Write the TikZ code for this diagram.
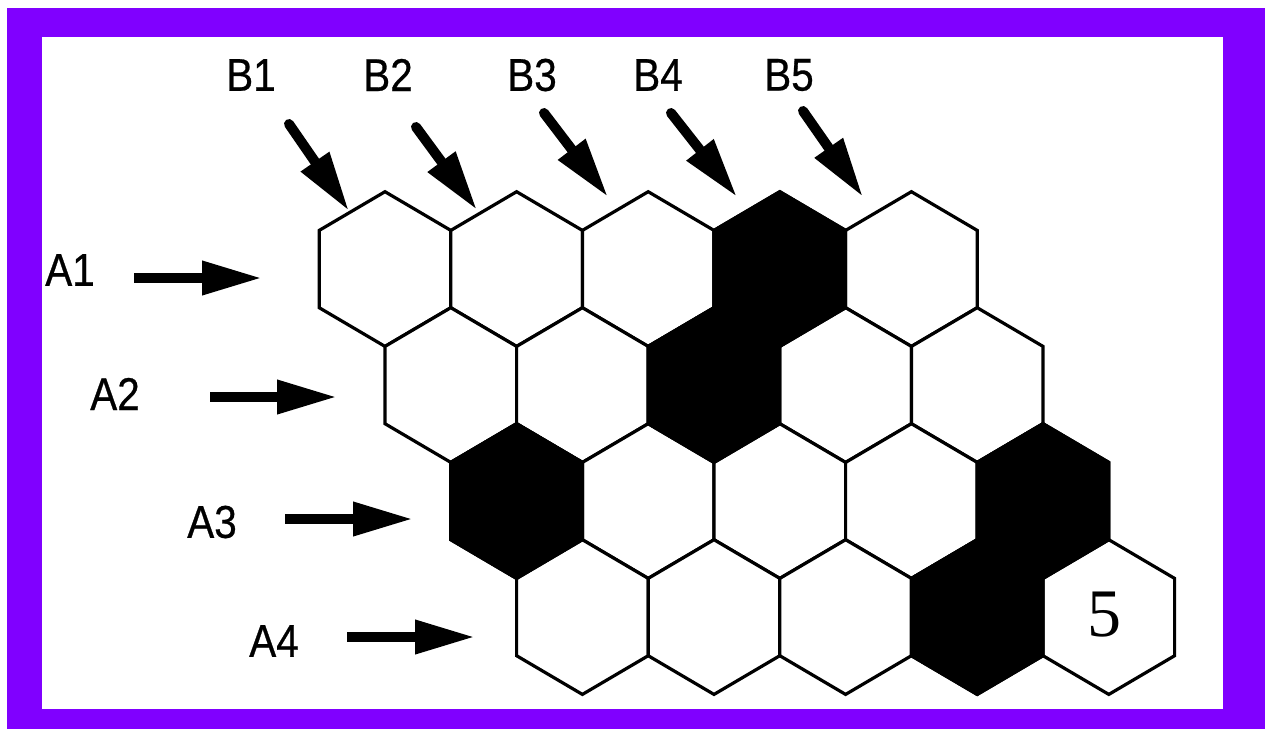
\documentclass[tikz,border=0pt]{standalone}
\usepackage{fontspec}
\setmainfont{Liberation Sans}
\newfontfamily\lblfont[FakeStretch=0.88,FakeBold=0.6]{Liberation Sans}
\newfontfamily\numfont{Liberation Serif}
\usetikzlibrary{arrows.meta}
\definecolor{framepurple}{RGB}{128,0,255}
\begin{document}
\begin{tikzpicture}[x=1pt,y=-1pt,
  hexcell/.style={draw=black,line width=3.2pt,line join=miter,fill=white},
  hexblack/.style={hexcell,fill=black},
  lbl/.style={font=\lblfont\fontsize{46}{52}\selectfont,inner sep=0pt,text=black},
  pointer/.style={line width=10pt,line cap=round,-{Triangle[length=60pt,width=32pt]}}
]
\useasboundingbox (0,0) rectangle (1271,729);
% frame
\fill[white] (0,0) rectangle (1271,729);
\fill[framepurple] (7,8) rectangle (1265,729);
\fill[white] (42,37) rectangle (1223,709);
% hex grid
\foreach \r in {0,1,2,3}{
  \foreach \c in {0,1,2,3,4}{
    \pgfmathsetmacro\cx{385+\r*65.8+\c*131.6}
    \pgfmathsetmacro\cy{269+\r*116}
    \coordinate (h\r\c) at (\cx,\cy);
    \draw[hexcell] (\cx,\cy-77.3) -- ++(65.8,38.7) -- ++(0,77.3) -- ++(-65.8,38.7)
      -- ++(-65.8,-38.7) -- ++(0,-77.3) -- cycle;
  }
}
\foreach \r/\c in {0/3,1/2,2/0,2/4,3/3}{
  \pgfmathsetmacro\cx{385+\r*65.8+\c*131.6}
  \pgfmathsetmacro\cy{269+\r*116}
  \draw[hexblack] (\cx,\cy-77.3) -- ++(65.8,38.7) -- ++(0,77.3) -- ++(-65.8,38.7)
    -- ++(-65.8,-38.7) -- ++(0,-77.3) -- cycle;
}
\node[inner sep=0pt,font=\numfont\fontsize{68}{74}\selectfont] (five) at ([xshift=-4pt,yshift=2pt]h34) {5};
% column labels and arrows
\node[lbl] (B1) at (251,75) {B1};
\node[lbl] (B2) at (388,75) {B2};
\node[lbl] (B3) at (532,75) {B3};
\node[lbl] (B4) at (658,75) {B4};
\node[lbl] (B5) at (789,75) {B5};
\coordinate (b1s) at (289,124); \coordinate (b1e) at (349,211);
\coordinate (b2s) at (416,127); \coordinate (b2e) at (477,210);
\coordinate (b3s) at (544,113); \coordinate (b3e) at (608,197);
\coordinate (b4s) at (671,113); \coordinate (b4e) at (737,197);
\coordinate (b5s) at (803,111); \coordinate (b5e) at (863,197);
\foreach \i in {1,...,5}{ \draw[pointer] (b\i s) -- (b\i e); }
% row labels and arrows
\node[lbl] (A1) at (70,270) {A1};
\node[lbl] (A2) at (115,394) {A2};
\node[lbl] (A3) at (212,522) {A3};
\node[lbl] (A4) at (274,641) {A4};
\coordinate (a1s) at (134,278); \coordinate (a1e) at (262,278);
\coordinate (a2s) at (210,397); \coordinate (a2e) at (337,397);
\coordinate (a3s) at (285,519); \coordinate (a3e) at (413,519);
\coordinate (a4s) at (347,637); \coordinate (a4e) at (475,637);
\foreach \i in {1,...,4}{ \draw[pointer,line cap=butt] (a\i s) -- (a\i e); }
\end{tikzpicture}
\end{document}
